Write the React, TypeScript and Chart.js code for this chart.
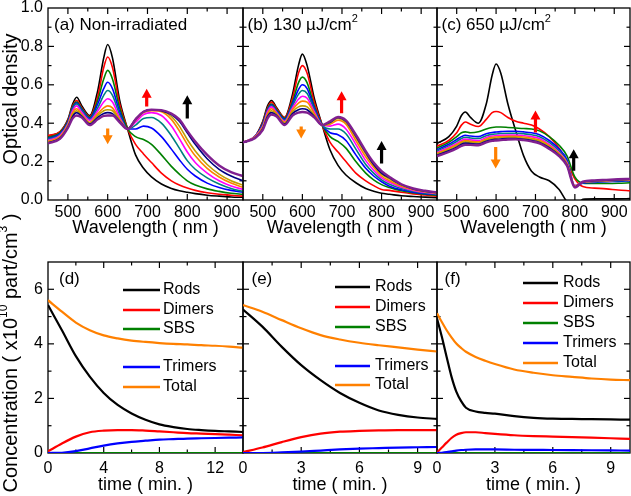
import React, { useEffect, useRef } from 'react';
import { Chart, registerables } from 'chart.js';

Chart.register(...registerables);

const FONT = '"Liberation Sans", Arial, Helvetica, sans-serif';
const CANVAS_W = 631;
const CANVAS_H = 496;

// ---------------- Top row: absorption spectra ----------------
const WAVELENGTHS = [450, 480, 500, 512, 522, 535, 555, 575, 590, 600, 612, 630, 650, 670, 690, 710, 735, 760, 780, 800, 820, 850, 880, 910, 940];
const SPECTRUM_COLORS = ['#000000', '#ff0000', '#008000', '#0000ff', '#008080', '#ff00ff', '#ff8000', '#c0a000', '#000080', '#802090'];

// (a) Non-irradiated
const OD_A: number[][] = [
  [0.332, 0.355, 0.42, 0.5, 0.535, 0.49, 0.44, 0.57, 0.74, 0.81, 0.74, 0.52, 0.37, 0.235, 0.165, 0.12, 0.083, 0.06, 0.048, 0.04, 0.033, 0.025, 0.02, 0.016, 0.014],
  [0.335, 0.355, 0.415, 0.49, 0.518, 0.48, 0.435, 0.54, 0.69, 0.745, 0.69, 0.5, 0.37, 0.29, 0.24, 0.195, 0.14, 0.1, 0.078, 0.062, 0.05, 0.038, 0.03, 0.025, 0.02],
  [0.325, 0.35, 0.41, 0.485, 0.51, 0.475, 0.43, 0.52, 0.63, 0.675, 0.63, 0.48, 0.37, 0.33, 0.315, 0.29, 0.235, 0.175, 0.135, 0.1, 0.078, 0.058, 0.045, 0.035, 0.03],
  [0.32, 0.345, 0.405, 0.48, 0.505, 0.47, 0.425, 0.5, 0.58, 0.613, 0.58, 0.46, 0.37, 0.37, 0.385, 0.375, 0.33, 0.265, 0.21, 0.16, 0.125, 0.088, 0.065, 0.05, 0.04],
  [0.315, 0.34, 0.4, 0.475, 0.5, 0.465, 0.42, 0.48, 0.545, 0.57, 0.545, 0.445, 0.37, 0.39, 0.425, 0.43, 0.4, 0.335, 0.27, 0.205, 0.16, 0.115, 0.083, 0.06, 0.045],
  [0.31, 0.335, 0.395, 0.465, 0.49, 0.455, 0.415, 0.465, 0.51, 0.527, 0.51, 0.43, 0.37, 0.405, 0.445, 0.455, 0.44, 0.385, 0.32, 0.25, 0.195, 0.14, 0.1, 0.073, 0.055],
  [0.305, 0.33, 0.39, 0.455, 0.475, 0.445, 0.405, 0.45, 0.48, 0.49, 0.48, 0.42, 0.37, 0.415, 0.455, 0.465, 0.46, 0.42, 0.36, 0.29, 0.23, 0.165, 0.12, 0.088, 0.065],
  [0.3, 0.325, 0.385, 0.445, 0.465, 0.44, 0.4, 0.44, 0.465, 0.47, 0.465, 0.415, 0.37, 0.42, 0.46, 0.47, 0.465, 0.435, 0.385, 0.315, 0.255, 0.185, 0.135, 0.1, 0.077],
  [0.298, 0.322, 0.38, 0.435, 0.455, 0.435, 0.395, 0.43, 0.45, 0.455, 0.45, 0.41, 0.37, 0.42, 0.46, 0.47, 0.465, 0.445, 0.41, 0.35, 0.29, 0.215, 0.16, 0.125, 0.1],
  [0.295, 0.318, 0.375, 0.425, 0.44, 0.43, 0.39, 0.42, 0.438, 0.44, 0.44, 0.405, 0.37, 0.42, 0.46, 0.47, 0.468, 0.45, 0.42, 0.36, 0.305, 0.235, 0.18, 0.145, 0.125],
];

// (b) 130 uJ/cm2
const OD_B: number[][] = [
  [0.3, 0.33, 0.41, 0.49, 0.518, 0.48, 0.43, 0.55, 0.7, 0.76, 0.7, 0.53, 0.39, 0.26, 0.18, 0.13, 0.09, 0.06, 0.046, 0.035, 0.03, 0.022, 0.018, 0.015, 0.012],
  [0.3, 0.33, 0.405, 0.48, 0.51, 0.475, 0.43, 0.53, 0.66, 0.7, 0.66, 0.51, 0.39, 0.3, 0.25, 0.2, 0.14, 0.1, 0.075, 0.055, 0.05, 0.04, 0.032, 0.026, 0.02],
  [0.3, 0.33, 0.4, 0.475, 0.5, 0.47, 0.425, 0.51, 0.61, 0.64, 0.61, 0.49, 0.39, 0.33, 0.305, 0.27, 0.2, 0.14, 0.105, 0.08, 0.065, 0.048, 0.038, 0.03, 0.025],
  [0.3, 0.33, 0.395, 0.47, 0.495, 0.465, 0.42, 0.5, 0.575, 0.6, 0.58, 0.48, 0.39, 0.35, 0.34, 0.31, 0.235, 0.165, 0.125, 0.095, 0.072, 0.053, 0.041, 0.033, 0.028],
  [0.3, 0.33, 0.39, 0.465, 0.49, 0.46, 0.415, 0.49, 0.55, 0.57, 0.555, 0.47, 0.39, 0.37, 0.37, 0.345, 0.265, 0.185, 0.14, 0.105, 0.082, 0.06, 0.046, 0.037, 0.03],
  [0.3, 0.33, 0.385, 0.46, 0.485, 0.455, 0.41, 0.48, 0.525, 0.54, 0.53, 0.46, 0.39, 0.385, 0.395, 0.37, 0.29, 0.205, 0.155, 0.115, 0.092, 0.066, 0.05, 0.04, 0.033],
  [0.3, 0.328, 0.38, 0.45, 0.475, 0.45, 0.405, 0.47, 0.505, 0.515, 0.51, 0.45, 0.39, 0.395, 0.415, 0.395, 0.31, 0.225, 0.17, 0.125, 0.1, 0.072, 0.054, 0.043, 0.035],
  [0.3, 0.326, 0.375, 0.44, 0.465, 0.445, 0.4, 0.46, 0.485, 0.49, 0.485, 0.44, 0.39, 0.4, 0.425, 0.405, 0.325, 0.24, 0.18, 0.135, 0.11, 0.077, 0.057, 0.045, 0.037],
  [0.3, 0.324, 0.37, 0.435, 0.455, 0.44, 0.395, 0.45, 0.47, 0.475, 0.47, 0.435, 0.39, 0.405, 0.43, 0.41, 0.333, 0.248, 0.185, 0.14, 0.115, 0.08, 0.058, 0.046, 0.038],
  [0.3, 0.322, 0.365, 0.425, 0.445, 0.435, 0.39, 0.44, 0.455, 0.458, 0.455, 0.43, 0.39, 0.41, 0.432, 0.415, 0.34, 0.255, 0.195, 0.15, 0.12, 0.082, 0.06, 0.048, 0.04],
];

// (c) 650 uJ/cm2
const OD_C: number[][] = [
  [0.294, 0.33, 0.385, 0.44, 0.458, 0.43, 0.4, 0.5, 0.65, 0.708, 0.66, 0.5, 0.36, 0.23, 0.15, 0.12, 0.1, 0.055, -0.01, -0.05, 0.004, 0.006, 0.006, 0.006, 0.007],
  [0.28, 0.31, 0.35, 0.39, 0.406, 0.395, 0.383, 0.42, 0.455, 0.461, 0.455, 0.43, 0.41, 0.4, 0.39, 0.37, 0.33, 0.27, 0.2, 0.11, 0.07, 0.062, 0.058, 0.052, 0.048],
  [0.27, 0.3, 0.33, 0.35, 0.355, 0.35, 0.355, 0.37, 0.378, 0.38, 0.38, 0.378, 0.375, 0.372, 0.37, 0.36, 0.33, 0.285, 0.23, 0.12, 0.088, 0.086, 0.086, 0.087, 0.09],
  [0.262, 0.29, 0.315, 0.33, 0.337, 0.333, 0.33, 0.345, 0.352, 0.354, 0.356, 0.358, 0.358, 0.355, 0.35, 0.34, 0.31, 0.265, 0.21, 0.07, 0.088, 0.092, 0.095, 0.097, 0.1],
  [0.255, 0.282, 0.305, 0.32, 0.327, 0.323, 0.32, 0.335, 0.342, 0.344, 0.346, 0.348, 0.348, 0.345, 0.34, 0.33, 0.3, 0.255, 0.2, 0.075, 0.09, 0.094, 0.097, 0.1, 0.102],
  [0.248, 0.275, 0.295, 0.31, 0.317, 0.313, 0.31, 0.325, 0.333, 0.335, 0.337, 0.338, 0.338, 0.335, 0.33, 0.32, 0.29, 0.247, 0.195, 0.075, 0.092, 0.097, 0.1, 0.103, 0.105],
  [0.243, 0.268, 0.288, 0.303, 0.31, 0.306, 0.303, 0.318, 0.326, 0.328, 0.33, 0.332, 0.332, 0.328, 0.322, 0.312, 0.283, 0.242, 0.19, 0.072, 0.092, 0.098, 0.101, 0.104, 0.106],
  [0.238, 0.262, 0.282, 0.297, 0.303, 0.3, 0.297, 0.312, 0.32, 0.322, 0.324, 0.326, 0.326, 0.322, 0.316, 0.306, 0.278, 0.238, 0.186, 0.07, 0.093, 0.099, 0.102, 0.105, 0.107],
  [0.233, 0.256, 0.275, 0.29, 0.296, 0.294, 0.291, 0.306, 0.314, 0.316, 0.318, 0.32, 0.32, 0.316, 0.31, 0.3, 0.272, 0.233, 0.182, 0.068, 0.094, 0.1, 0.103, 0.106, 0.108],
  [0.228, 0.25, 0.268, 0.282, 0.288, 0.287, 0.285, 0.3, 0.308, 0.31, 0.312, 0.315, 0.316, 0.312, 0.305, 0.295, 0.266, 0.228, 0.178, 0.065, 0.095, 0.102, 0.105, 0.108, 0.11],
];

const WL_LABELS = [500, 600, 700, 800, 900];
const WL_MINOR = [450, 550, 650, 750, 850];
const OD_LABELS = [0, 0.2, 0.4, 0.6, 0.8, 1.0];
const OD_MINOR = [0.1, 0.3, 0.5, 0.7, 0.9];

const ORANGE = '#ff8000';
const RED = '#ff0000';
const BLACK = '#000000';
const ARROWS_A = [
  { x: 600, from: 0.372, to: 0.29, color: ORANGE },
  { x: 698, from: 0.487, to: 0.58, color: RED },
  { x: 800, from: 0.425, to: 0.545, color: BLACK },
];
const ARROWS_B = [
  { x: 597, from: 0.383, to: 0.32, color: ORANGE },
  { x: 699, from: 0.452, to: 0.566, color: RED },
  { x: 800, from: 0.19, to: 0.307, color: BLACK },
];
const ARROWS_C = [
  { x: 700, from: 0.351, to: 0.466, color: RED },
  { x: 599, from: 0.276, to: 0.164, color: ORANGE },
  { x: 797, from: 0.152, to: 0.264, color: BLACK },
];

// ---------------- Bottom row: concentrations ----------------
const SERIES_NAMES = ['Rods', 'Dimers', 'SBS', 'Trimers', 'Total'];
const SERIES_COLORS = ['#000000', '#ff0000', '#008000', '#0000ff', '#ff8000'];

const TIME_D = [0, 1, 2, 3, 4, 5, 6, 7, 8, 9, 10, 11, 12, 13, 14];
const RODS_D = [5.42, 4.5, 3.55, 2.8, 2.2, 1.76, 1.45, 1.22, 1.05, 0.95, 0.88, 0.84, 0.81, 0.79, 0.77];
const DIMERS_D = [0.06, 0.35, 0.6, 0.76, 0.82, 0.84, 0.84, 0.82, 0.79, 0.76, 0.73, 0.71, 0.69, 0.67, 0.65];
const SBS_D = [0, 0, 0, 0, 0, 0, 0, 0, 0, 0, 0, 0, 0, 0, 0];
const TRIMERS_D = [0, 0.01, 0.07, 0.17, 0.27, 0.35, 0.41, 0.45, 0.49, 0.51, 0.53, 0.54, 0.55, 0.56, 0.57];
const TOTAL_D = [5.6, 5.18, 4.78, 4.5, 4.31, 4.2, 4.12, 4.07, 4.03, 4.0, 3.98, 3.95, 3.93, 3.9, 3.86];

const TIME_E = [0, 1, 2, 3, 4, 5, 6, 7, 8, 9, 10];
const RODS_E = [5.26, 4.63, 3.89, 3.22, 2.67, 2.2, 1.84, 1.56, 1.4, 1.3, 1.25];
const DIMERS_E = [0.03, 0.2, 0.4, 0.58, 0.71, 0.78, 0.81, 0.83, 0.84, 0.84, 0.84];
const SBS_E = [0, 0, 0, 0, 0, 0, 0, 0, 0, 0, 0];
const TRIMERS_E = [0, 0, 0.02, 0.05, 0.09, 0.13, 0.16, 0.18, 0.2, 0.21, 0.22];
const TOTAL_E = [5.42, 5.18, 4.87, 4.57, 4.32, 4.16, 4.04, 3.95, 3.87, 3.79, 3.72];

const TIME_F = [0, 0.25, 0.5, 0.75, 1, 1.25, 1.5, 2, 2.5, 3, 4, 5, 6, 7, 8, 9, 10];
const RODS_F = [4.93, 4.26, 3.52, 2.8, 2.25, 1.9, 1.66, 1.52, 1.47, 1.44, 1.35, 1.29, 1.26, 1.25, 1.24, 1.23, 1.22];
const DIMERS_F = [0.02, 0.2, 0.38, 0.55, 0.67, 0.73, 0.76, 0.76, 0.73, 0.7, 0.65, 0.62, 0.6, 0.58, 0.56, 0.54, 0.52];
const SBS_F = [0, 0, 0, 0, 0, 0, 0, 0, 0, 0, 0, 0, 0, 0, 0, 0, 0];
const TRIMERS_F = [0, 0.01, 0.03, 0.06, 0.09, 0.11, 0.12, 0.13, 0.13, 0.13, 0.12, 0.115, 0.11, 0.105, 0.1, 0.095, 0.09];
const TOTAL_F = [5.12, 4.8, 4.5, 4.24, 4.01, 3.85, 3.71, 3.52, 3.38, 3.26, 3.06, 2.94, 2.85, 2.79, 2.73, 2.69, 2.67];

const CONC_LABELS = [0, 2, 4, 6];
const CONC_MINOR = [1, 3, 5];
const TIME_D_LABELS = [0, 4, 8, 12];
const TIME_D_MINOR = [2, 6, 10];
const TIME_EF_LABELS = [0, 3, 6, 9];
const TIME_EF_MINOR = [1.5, 4.5, 7.5];

// ---------------- helpers ----------------
type Seg = { t: string; sup?: boolean };
type Arrow = { x: number; from: number; to: number; color: string };
type LegendSpec = { x0: number; x1: number; tx: number; rows: number[] };

interface PanelSpec {
  area: { left: number; top: number; right: number; bottom: number };
  datasets: any[];
  xMin: number; xMax: number; yMin: number; yMax: number;
  xLabels: number[]; yLabels: number[] | null; yMajor: number[];
  xMinor: number[]; yMinor: number[];
  xTitle: string; xBox: number; xPad: number;
  yFmt: (v: number) => string;
  label: Seg[]; labelDx: number; labelDy: number;
  arrows?: Arrow[];
  legend?: LegendSpec;
  yTitle?: Seg[]; yTitleX?: number; yTitleY?: number;
}

function segFont(s: Seg, size: number) {
  return `${s.sup ? Math.round(size * 0.62) : size}px ${FONT}`;
}

function drawRich(ctx: CanvasRenderingContext2D, segs: Seg[], x: number, y: number, size: number, center: boolean) {
  ctx.textBaseline = 'middle';
  ctx.textAlign = 'left';
  ctx.fillStyle = '#000';
  let total = 0;
  for (const s of segs) { ctx.font = segFont(s, size); total += ctx.measureText(s.t).width; }
  let cx = center ? x - total / 2 : x;
  for (const s of segs) {
    ctx.font = segFont(s, size);
    ctx.fillText(s.t, cx, s.sup ? y - size * 0.4 : y);
    cx += ctx.measureText(s.t).width;
  }
}

function drawArrow(ctx: CanvasRenderingContext2D, x: number, y0: number, y1: number, color: string) {
  const dir = Math.sign(y1 - y0);
  const headLen = 9, headHalf = 5, shaftHalf = 1.6;
  const yb = y1 - dir * headLen;
  ctx.fillStyle = color;
  ctx.beginPath();
  ctx.moveTo(x - shaftHalf, y0);
  ctx.lineTo(x + shaftHalf, y0);
  ctx.lineTo(x + shaftHalf, yb);
  ctx.lineTo(x + headHalf, yb);
  ctx.lineTo(x, y1);
  ctx.lineTo(x - headHalf, yb);
  ctx.lineTo(x - shaftHalf, yb);
  ctx.closePath();
  ctx.fill();
}

function decor(s: PanelSpec) {
  return {
    id: 'decor',
    beforeDatasetsDraw(chart: any) {
      const { ctx, chartArea: a } = chart;
      const xs = chart.scales.x, ys = chart.scales.y;
      ctx.save();
      ctx.strokeStyle = '#000';
      ctx.lineWidth = 1.3;
      ctx.strokeRect(a.left, a.top, a.right - a.left, a.bottom - a.top);
      ctx.lineWidth = 1.2;
      const line = (x1: number, y1: number, x2: number, y2: number) => {
        ctx.beginPath(); ctx.moveTo(x1, y1); ctx.lineTo(x2, y2); ctx.stroke();
      };
      const xt = (vals: number[], len: number) => vals.forEach((v) => {
        const px = xs.getPixelForValue(v);
        if (px <= a.left + 1 || px >= a.right - 1) return;
        line(px, a.bottom, px, a.bottom - len);
        line(px, a.top, px, a.top + len);
      });
      const yt = (vals: number[], len: number) => vals.forEach((v) => {
        const py = ys.getPixelForValue(v);
        if (py <= a.top + 1 || py >= a.bottom - 1) return;
        line(a.left, py, a.left + len, py);
        line(a.right, py, a.right - len, py);
      });
      xt(s.xLabels, 6); xt(s.xMinor, 3.5);
      yt(s.yMajor, 6); yt(s.yMinor, 3.5);
      ctx.restore();
    },
    afterDatasetsDraw(chart: any) {
      const { ctx, chartArea: a } = chart;
      const xs = chart.scales.x, ys = chart.scales.y;
      ctx.save();
      for (const ar of s.arrows ?? []) {
        drawArrow(ctx, xs.getPixelForValue(ar.x), ys.getPixelForValue(ar.from), ys.getPixelForValue(ar.to), ar.color);
      }
      drawRich(ctx, s.label, a.left + s.labelDx, a.top + s.labelDy, 17, false);
      if (s.legend) {
        const L = s.legend;
        SERIES_NAMES.forEach((name, i) => {
          const y = a.top + L.rows[i];
          ctx.strokeStyle = SERIES_COLORS[i];
          ctx.lineWidth = 2.5;
          ctx.beginPath(); ctx.moveTo(a.left + L.x0, y); ctx.lineTo(a.left + L.x1, y); ctx.stroke();
          drawRich(ctx, [{ t: name }], a.left + L.tx, y, 16, false);
        });
      }
      if (s.yTitle) {
        ctx.translate(s.yTitleX!, s.yTitleY!);
        ctx.rotate(-Math.PI / 2);
        drawRich(ctx, s.yTitle, 0, 0, 20, true);
      }
      ctx.restore();
    },
  };
}

function spectra(rows: number[][]) {
  return rows.map((r, i) => ({
    data: WAVELENGTHS.map((w, j) => ({ x: w, y: r[j] })),
    borderColor: SPECTRUM_COLORS[i],
    borderWidth: i === rows.length - 1 ? 2.4 : 1.6,
    pointRadius: 0,
    fill: false,
    cubicInterpolationMode: 'monotone',
    order: rows.length - i,
  }));
}

function kinetics(t: number[], series: number[][]) {
  return series.map((vals, i) => ({
    data: t.map((tt, j) => ({ x: tt, y: vals[j] })),
    borderColor: SERIES_COLORS[i],
    borderWidth: 2.2,
    pointRadius: 0,
    fill: false,
    cubicInterpolationMode: 'monotone',
    order: series.length - i,
  }));
}

const odFmt = (v: number) => v.toFixed(1);
const intFmt = (v: number) => String(v);

const TOP = { top: 8, bottom: 200 };
const BOT = { top: 262, bottom: 453 };

const PANELS: PanelSpec[] = [
  {
    area: { left: 48, right: 243, ...TOP }, datasets: spectra(OD_A),
    xMin: 450, xMax: 940, yMin: 0, yMax: 1,
    xLabels: WL_LABELS, yLabels: OD_LABELS, yMajor: OD_LABELS, xMinor: WL_MINOR, yMinor: OD_MINOR,
    xTitle: 'Wavelength ( nm )', xBox: 39, xPad: 3, yFmt: odFmt,
    label: [{ t: '(a) Non-irradiated' }], labelDx: 6, labelDy: 17.5, arrows: ARROWS_A,
    yTitle: [{ t: 'Optical density' }], yTitleX: 11, yTitleY: 99,
  },
  {
    area: { left: 243, right: 437, ...TOP }, datasets: spectra(OD_B),
    xMin: 450, xMax: 940, yMin: 0, yMax: 1,
    xLabels: WL_LABELS, yLabels: null, yMajor: OD_LABELS, xMinor: WL_MINOR, yMinor: OD_MINOR,
    xTitle: 'Wavelength ( nm )', xBox: 39, xPad: 3, yFmt: odFmt,
    label: [{ t: '(b) 130 \u00b5J/cm' }, { t: '2', sup: true }], labelDx: 4.5, labelDy: 17.5, arrows: ARROWS_B,
  },
  {
    area: { left: 437, right: 630, ...TOP }, datasets: spectra(OD_C),
    xMin: 450, xMax: 940, yMin: 0, yMax: 1,
    xLabels: WL_LABELS, yLabels: null, yMajor: OD_LABELS, xMinor: WL_MINOR, yMinor: OD_MINOR,
    xTitle: 'Wavelength ( nm )', xBox: 39, xPad: 3, yFmt: odFmt,
    label: [{ t: '(c) 650 \u00b5J/cm' }, { t: '2', sup: true }], labelDx: 4.5, labelDy: 17.5, arrows: ARROWS_C,
  },
  {
    area: { left: 48, right: 243, ...BOT },
    datasets: kinetics(TIME_D, [RODS_D, DIMERS_D, SBS_D, TRIMERS_D, TOTAL_D]),
    xMin: 0, xMax: 14, yMin: 0, yMax: 7,
    xLabels: TIME_D_LABELS, yLabels: CONC_LABELS, yMajor: CONC_LABELS, xMinor: TIME_D_MINOR, yMinor: CONC_MINOR,
    xTitle: 'time ( min. )', xBox: 43, xPad: 6, yFmt: intFmt,
    label: [{ t: '(d)' }], labelDx: 11, labelDy: 17,
    legend: { x0: 75, x1: 112, tx: 115, rows: [28, 48, 67, 105, 125] },
    yTitle: [{ t: 'Concentration ( x10' }, { t: '10', sup: true }, { t: ' part/cm' }, { t: '3', sup: true }, { t: ' )' }],
    yTitleX: 11.5, yTitleY: 353,
  },
  {
    area: { left: 243, right: 437, ...BOT },
    datasets: kinetics(TIME_E, [RODS_E, DIMERS_E, SBS_E, TRIMERS_E, TOTAL_E]),
    xMin: 0, xMax: 10, yMin: 0, yMax: 7,
    xLabels: TIME_EF_LABELS, yLabels: null, yMajor: CONC_LABELS, xMinor: TIME_EF_MINOR, yMinor: CONC_MINOR,
    xTitle: 'time ( min. )', xBox: 43, xPad: 6, yFmt: intFmt,
    label: [{ t: '(e)' }], labelDx: 8.5, labelDy: 17,
    legend: { x0: 92, x1: 127, tx: 132, rows: [25, 45, 65, 104, 123] },
  },
  {
    area: { left: 437, right: 630, ...BOT },
    datasets: kinetics(TIME_F, [RODS_F, DIMERS_F, SBS_F, TRIMERS_F, TOTAL_F]),
    xMin: 0, xMax: 10, yMin: 0, yMax: 7,
    xLabels: TIME_EF_LABELS, yLabels: null, yMajor: CONC_LABELS, xMinor: TIME_EF_MINOR, yMinor: CONC_MINOR,
    xTitle: 'time ( min. )', xBox: 43, xPad: 6, yFmt: intFmt,
    label: [{ t: '(f)' }], labelDx: 7.5, labelDy: 17,
    legend: { x0: 86, x1: 121, tx: 126, rows: [21, 41, 61, 81, 101] },
  },
];

function buildConfig(s: PanelSpec): any {
  const yW = s.yLabels ? 48 : 0;
  return {
    type: 'line',
    data: { datasets: s.datasets },
    options: {
      responsive: false,
      maintainAspectRatio: false,
      animation: false,
      devicePixelRatio: 1,
      events: [],
      layout: {
        padding: {
          left: s.area.left - yW,
          right: CANVAS_W - s.area.right,
          top: s.area.top,
          bottom: CANVAS_H - s.area.bottom - s.xBox,
        },
      },
      plugins: { legend: { display: false }, tooltip: { enabled: false }, title: { display: false } },
      scales: {
        x: {
          type: 'linear', min: s.xMin, max: s.xMax,
          grid: { display: false, drawTicks: false },
          border: { display: false },
          ticks: {
            autoSkip: false, maxRotation: 0, minRotation: 0, padding: s.xPad, color: '#000',
            font: { family: FONT, size: 16 },
            callback: (v: number) => String(v),
          },
          afterBuildTicks: (axis: any) => { axis.ticks = s.xLabels.map((v) => ({ value: v })); },
          afterFit: (axis: any) => {
            axis.height = s.xBox; axis.paddingLeft = 0; axis.paddingRight = 0;
          },
          title: { display: true, text: s.xTitle, color: '#000', font: { family: FONT, size: 18 }, padding: 0 },
        },
        y: {
          type: 'linear', min: s.yMin, max: s.yMax,
          grid: { display: false, drawTicks: false },
          border: { display: false },
          ticks: {
            display: !!s.yLabels, autoSkip: false, padding: 5, color: '#000',
            font: { family: FONT, size: 16 },
            callback: (v: number) => s.yFmt(v),
          },
          afterBuildTicks: (axis: any) => { axis.ticks = (s.yLabels ?? []).map((v) => ({ value: v })); },
          afterFit: (axis: any) => {
            axis.width = yW; axis.paddingTop = 0; axis.paddingBottom = 0;
          },
        },
      },
    },
    plugins: [decor(s)],
  };
}

function Panel({ spec }: { spec: PanelSpec }) {
  const ref = useRef<HTMLCanvasElement | null>(null);
  useEffect(() => {
    const chart = new Chart(ref.current as HTMLCanvasElement, buildConfig(spec));
    return () => chart.destroy();
  }, [spec]);
  return (
    <canvas
      ref={ref}
      width={CANVAS_W}
      height={CANVAS_H}
      style={{ position: 'absolute', left: 0, top: 0, width: CANVAS_W, height: CANVAS_H }}
    />
  );
}

export default function App() {
  return (
    <div style={{ position: 'absolute', left: 0, top: 0, width: CANVAS_W, height: CANVAS_H, background: '#fff', overflow: 'hidden' }}>
      {PANELS.map((p, i) => (
        <Panel key={i} spec={p} />
      ))}
    </div>
  );
}
